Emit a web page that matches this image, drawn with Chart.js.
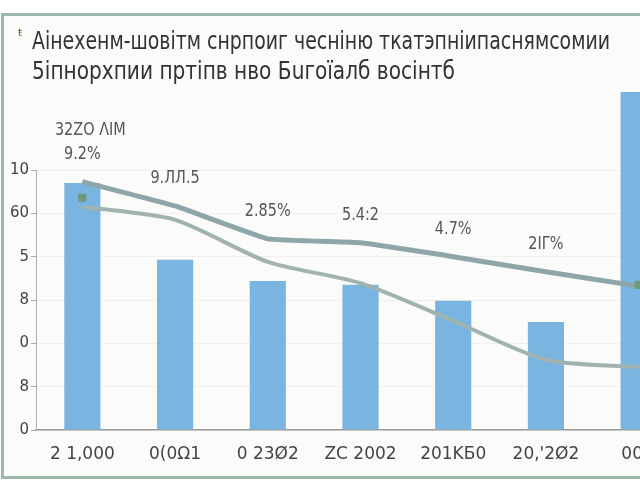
<!DOCTYPE html>
<html>
<head>
<meta charset="utf-8">
<script src="https://cdn.jsdelivr.net/npm/chart.js@4/dist/chart.umd.min.js"></script>
<style>
  html, body { margin:0; padding:0; width:640px; height:480px; overflow:hidden; background:#ffffff; }
  .frame { position:absolute; left:1px; top:13px; width:700px; height:460px; border:3px solid #9db8aa; border-right:none; background:#fbfbfa; }
  .mark { position:absolute; left:18px; top:27px; font-family:"DejaVu Sans",sans-serif; font-size:10px; color:#555; }
  canvas { position:absolute; left:0; top:0; }
</style>
</head>
<body>
<div class="frame"></div>
<div class="mark">ŧ</div>
<div style="position:absolute;left:0;top:0;width:700px;height:480px;"><canvas id="c" width="700" height="480"></canvas></div>
<script>
const titleLines = ["Аінехенм-шовітм снрпоиг чесніню ткатэпніипаснямсомии", "5іпнорхпии пртіпв нво Бuгоїалб восінтб"];
const categories = ["2 1,000", "0(0Ω1", "0 23Ø2", "ZC 2002", "201KБ0", "20,'2Ø2", "00Ω"];
const barValues = [5.70, 3.93, 3.44, 3.35, 2.98, 2.49, 7.80];
const lineAValues = [5.73, 5.17, 4.41, 4.32, 4.00, 3.65, 3.32];
const lineBValues = [5.15, 4.85, 3.88, 3.39, 2.52, 1.62, 1.45];
const markerValues = [5.36, null, null, null, null, null, 3.35];
const yTickLabels = ["0", "8", "0", "8", "5", "60", "10"];
const pointLabels = [["32ZO ΛIM", "9.2%"], ["9.ЛЛ.5"], ["2.85%"], ["5.4:2"], ["4.7%"], ["2ΙΓ%"], []];

const titlePlugin = {
  id: 'titleText',
  afterDraw(chart) {
    const ctx = chart.ctx;
    ctx.save();
    ctx.font = '25px "DejaVu Sans", sans-serif';
    ctx.fillStyle = '#333';
    ctx.textBaseline = 'middle';
    ctx.textAlign = 'left';
    const targets = [578, 423];
    titleLines.forEach((t, i) => {
      const w = ctx.measureText(t).width;
      ctx.save();
      ctx.translate(32, 42 + i * 30);
      ctx.scale(targets[i] / w, 1);
      ctx.fillText(t, 0, 0);
      ctx.restore();
    });
    ctx.restore();
  }
};

const labelPlugin = {
  id: 'pointLabels',
  afterDatasetsDraw(chart) {
    const ctx = chart.ctx;
    const meta = chart.getDatasetMeta(1);
    ctx.save();
    ctx.font = '17px "DejaVu Sans", sans-serif';
    ctx.fillStyle = '#555';
    ctx.textAlign = 'center';
    ctx.textBaseline = 'middle';
    meta.data.forEach((pt, i) => {
      const lines = pointLabels[i] || [];
      for (let k = 0; k < lines.length; k++) {
        const off = (lines.length - 1 - k) * 24;
        ctx.save();
        ctx.translate(pt.x + (lines.length > 1 && k === 0 ? 8 : 0), pt.y - 27 - off);
        ctx.scale(0.85, 1);
        ctx.fillText(lines[k], 0, 0);
        ctx.restore();
      }
    });
    ctx.restore();
  }
};

new Chart(document.getElementById('c'), {
  data: {
    labels: categories,
    datasets: [
      { type: 'bar', data: barValues, backgroundColor: '#7ab4e0', barPercentage: 0.39, categoryPercentage: 1, clip: false, order: 3 },
      { type: 'line', data: lineAValues, borderColor: '#8ea6aa', borderWidth: 5, pointRadius: 0, tension: 0.08, order: 1 },
      { type: 'line', data: lineBValues, borderColor: '#a0b3b0', borderWidth: 4, pointRadius: 0, tension: 0.25, order: 2 },
      { type: 'line', data: markerValues, showLine: false, pointStyle: 'rect', pointRadius: 5, backgroundColor: '#6f9a78', borderColor: '#6f9a78', order: 0 }
    ]
  },
  options: {
    responsive: false,
    animation: false,
    layout: { padding: { top: 170, left: 0, right: 15, bottom: 15 } },
    plugins: { legend: { display: false }, tooltip: { enabled: false }, title: { display: false } },
    scales: {
      x: {
        offset: true,
        grid: { display: false, drawTicks: false },
        border: { color: '#9a9a9a', width: 1.5 },
        ticks: { color: '#444', font: { family: '"DejaVu Sans", sans-serif', size: 17 }, padding: 14, maxRotation: 0, autoSkip: false },
        afterFit(scale) { scale.height = 35; }
      },
      y: {
        min: 0, max: 6,
        grid: { color: '#f0f0f0', tickLength: 5, tickColor: '#aaa' },
        border: { color: '#b0b0b0', width: 1 },
        ticks: { stepSize: 1, color: '#444', padding: 2, font: { family: '"DejaVu Sans", sans-serif', size: 15 },
          callback: (v, i) => yTickLabels[i] },
        afterFit(scale) { scale.width = 36; }
      }
    }
  },
  plugins: [labelPlugin, titlePlugin]
});
</script>
</body>
</html>
